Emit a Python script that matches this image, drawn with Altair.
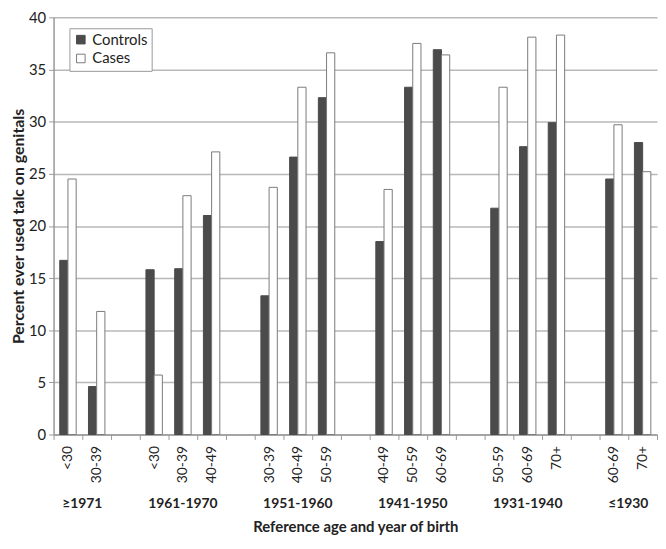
import altair as alt
import pandas as pd

cohorts = ["≥1971", "1961-1970", "1951-1960", "1941-1950", "1931-1940", "≤1930"]
ages = [["<30", "30-39"],
        ["<30", "30-39", "40-49"],
        ["30-39", "40-49", "50-59"],
        ["40-49", "50-59", "60-69"],
        ["50-59", "60-69", "70+"],
        ["60-69", "70+"]]
controls = [16.7, 4.6, 15.8, 15.9, 21.0, 13.3, 26.6, 32.3, 18.5, 33.3, 36.9, 21.7, 27.6, 29.9, 24.5, 28.0]
cases = [24.5, 11.8, 5.7, 22.9, 27.1, 23.7, 33.3, 36.6, 23.5, 37.5, 36.4, 33.3, 38.1, 38.3, 29.7, 25.2]
groups = ["Controls", "Cases"]

slots = []
rows = []
cohort_rows = []
k = 0
for i, (c, al) in enumerate(zip(cohorts, ages)):
    ids = []
    for a in al:
        sid = f"{c}|{a}"
        slots.append(sid)
        ids.append(sid)
        rows.append({"slot": sid, "group": "Controls", "value": controls[k]})
        rows.append({"slot": sid, "group": "Cases", "value": cases[k]})
        k += 1
    n = len(ids)
    if n % 2 == 1:
        cohort_rows.append({"cohort": c, "anchor": ids[n // 2], "odd": 1})
    else:
        cohort_rows.append({"cohort": c, "anchor": ids[n // 2 - 1], "odd": 0})
    if i < len(cohorts) - 1:
        slots.append(f"gap{i}")

df = pd.DataFrame(rows)
cdf = pd.DataFrame(cohort_rows)

W = 609
H = 421
FONT = "Lato"

xscale = alt.Scale(domain=slots, paddingInner=0, paddingOuter=0)

bars = alt.Chart(df).mark_bar(strokeWidth=1).encode(
    x=alt.X("slot:N", scale=xscale, sort=slots,
            axis=alt.Axis(title="Reference age and year of birth",
                          labelExpr="indexof(datum.label, '|') >= 0 ? split(datum.label, '|')[1] : ''",
                          labelAngle=-90, labelFontSize=14, labelFont=FONT, labelColor="#222",
                          labelPadding=6,
                          tickBand="extent", tickExtra=True, tickSize=5, tickColor="#999",
                          domainColor="#999", domainWidth=1.5,
                          titleFont=FONT, titleFontSize=15, titleFontWeight="bold",
                          titleColor="#222", titlePadding=37)),
    xOffset=alt.XOffset("group:N", sort=groups,
                        scale=alt.Scale(domain=groups, paddingOuter=0.75, paddingInner=0)),
    y=alt.Y("value:Q",
            scale=alt.Scale(domain=[0, 40], nice=False),
            axis=alt.Axis(title="Percent ever used talc on genitals",
                          values=[0, 5, 10, 15, 20, 25, 30, 35, 40],
                          labelFontSize=15, labelFont=FONT, labelColor="#222", labelPadding=3,
                          tickSize=5, tickColor="#999", domainColor="#999", domainWidth=1.5,
                          gridColor="#b8b8b8", gridWidth=1.5,
                          titleFont=FONT, titleFontSize=16, titleFontWeight="bold",
                          titleColor="#222", titlePadding=2)),
    color=alt.Color("group:N", sort=groups,
                    scale=alt.Scale(domain=groups, range=["#4b4b4b", "#ffffff"]),
                    legend=alt.Legend(title=None, orient="none", legendX=16, legendY=11,
                                      symbolType="square", symbolSize=75,
                                      labelFont=FONT, labelFontSize=15, labelColor="#222",
                                      strokeColor="#999", fillColor="white",
                                      padding=4, rowPadding=3, symbolStrokeWidth=1)),
    stroke=alt.Stroke("group:N", sort=groups,
                      scale=alt.Scale(domain=groups, range=["#4b4b4b", "#7a7a7a"]),
                      legend=None),
)

label_style = dict(fontSize=14, font=FONT, fontWeight="bold", color="#222",
                   baseline="middle", align="center")

odd_labels = alt.Chart(cdf).transform_filter("datum.odd == 1").mark_text(**label_style).encode(
    x=alt.X("anchor:N", scale=xscale, sort=slots, bandPosition=0.5),
    y=alt.value(H + 70),
    text="cohort:N",
)
even_labels = alt.Chart(cdf).transform_filter("datum.odd == 0").mark_text(**label_style).encode(
    x=alt.X("anchor:N", scale=xscale, sort=slots, bandPosition=1),
    y=alt.value(H + 70),
    text="cohort:N",
)

chart = alt.layer(bars, odd_labels, even_labels).properties(
    width=W, height=H,
    padding={"left": 2, "top": 0, "right": 0, "bottom": 0},
    background="white",
).configure_view(stroke=None)

chart.save("out.html", embed_options={"renderer": "svg", "actions": False})
